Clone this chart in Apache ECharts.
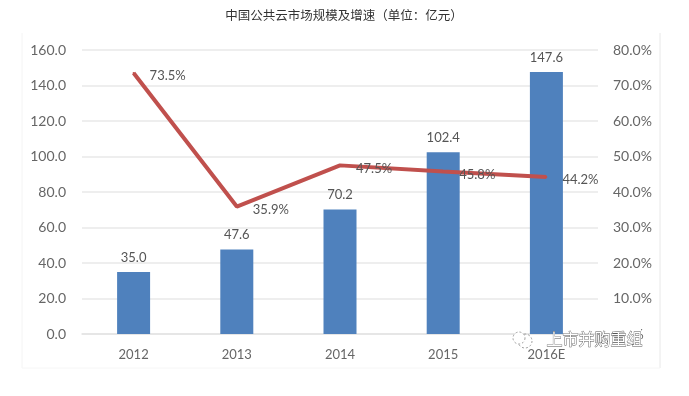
<!DOCTYPE html>
<html><head><meta charset="utf-8">
<script src="https://cdn.jsdelivr.net/npm/echarts@6/dist/echarts.min.js"></script>
<style>html,body{margin:0;padding:0;background:#fff}#c{width:689px;height:396px}</style></head>
<body><div id="c"></div>
<script>
const categories = ['2012','2013','2014','2015','2016E'];
const marketSize = [35.0,47.6,70.2,102.4,147.6];
const growth = [73.5,35.9,47.5,45.8,44.2];
const titleText = '中国公共云市场规模及增速（单位：亿元）';
const watermark = '上市并购重组';
const font = 'Lato,"Open Sans","Noto Sans","Noto Sans CJK SC",sans-serif';
const chart = echarts.init(document.getElementById('c'));
chart.setOption({
  animation:false,
  backgroundColor:'#fff',
  title:{text:titleText,left:339,top:4,textAlign:'center',textStyle:{fontSize:12.5,fontWeight:'normal',color:'#333',fontFamily:'"Noto Sans CJK SC",sans-serif'}},
  grid:{left:82,right:91,top:50,bottom:62},
  xAxis:{type:'category',data:categories,axisTick:{show:false},axisLine:{lineStyle:{color:'#e3e3e3',width:1.5}},axisLabel:{color:'#666',fontSize:13,margin:14,fontFamily:font}},
  yAxis:[
    {type:'value',min:0,max:160,interval:20,axisLine:{show:false},axisTick:{show:false},splitLine:{lineStyle:{color:'#e8e8e8',width:1.5}},axisLabel:{color:'#666',fontSize:14,margin:16,padding:[2,0,0,0],formatter:v=>v.toFixed(1),fontFamily:font}},
    {type:'value',min:0,max:80,interval:10,axisLine:{show:false},axisTick:{show:false},splitLine:{show:false},axisLabel:{color:'#666',fontSize:14,margin:15,padding:[2,0,0,0],formatter:v=>v.toFixed(1)+'%',fontFamily:font}}
  ],
  series:[
    {type:'bar',data:marketSize,barWidth:33,itemStyle:{color:'#4f81bd'},z:2,label:{show:true,position:'top',distance:8,color:'#555',fontSize:13,formatter:p=>p.value.toFixed(1),fontFamily:font}},
    {type:'line',yAxisIndex:1,data:growth,symbol:'circle',symbolSize:2,showSymbol:true,showAllSymbol:true,z:3,itemStyle:{color:'#c0504d'},lineStyle:{color:'#c0504d',width:4},label:{show:true,position:'right',distance:15,offset:[0,3],color:'#555',fontSize:13,formatter:p=>p.value.toFixed(1)+'%',fontFamily:font}}
  ],
  graphic:[
    {type:'line',shape:{x1:22,y1:33,x2:22,y2:368},style:{stroke:'#f4f4f4',lineWidth:1},silent:true},
    {type:'line',shape:{x1:660,y1:33,x2:660,y2:368},style:{stroke:'#e8e8e8',lineWidth:1},silent:true},
    {type:'line',shape:{x1:22,y1:368,x2:660,y2:368},style:{stroke:'#f6f6f6',lineWidth:1},silent:true},
    {type:'rect',z:9,shape:{x:610,y:329,width:31,height:20},style:{fill:'#fff'}},
    {type:'text',z:10,left:546,top:331,style:{text:watermark,fontSize:16,fontFamily:'"Noto Sans CJK SC",sans-serif',fill:'#fff',stroke:'#555',lineWidth:0.8}},
    {type:'circle',z:10,shape:{cx:525,cy:341,r:7},style:{fill:'none',stroke:'#888',lineWidth:0.8,lineDash:[2,2]}},
    {type:'circle',z:10,shape:{cx:519,cy:338,r:6},style:{fill:'#fff',stroke:'#888',lineWidth:0.8,lineDash:[2,2]}}
  ]
});
</script></body></html>
